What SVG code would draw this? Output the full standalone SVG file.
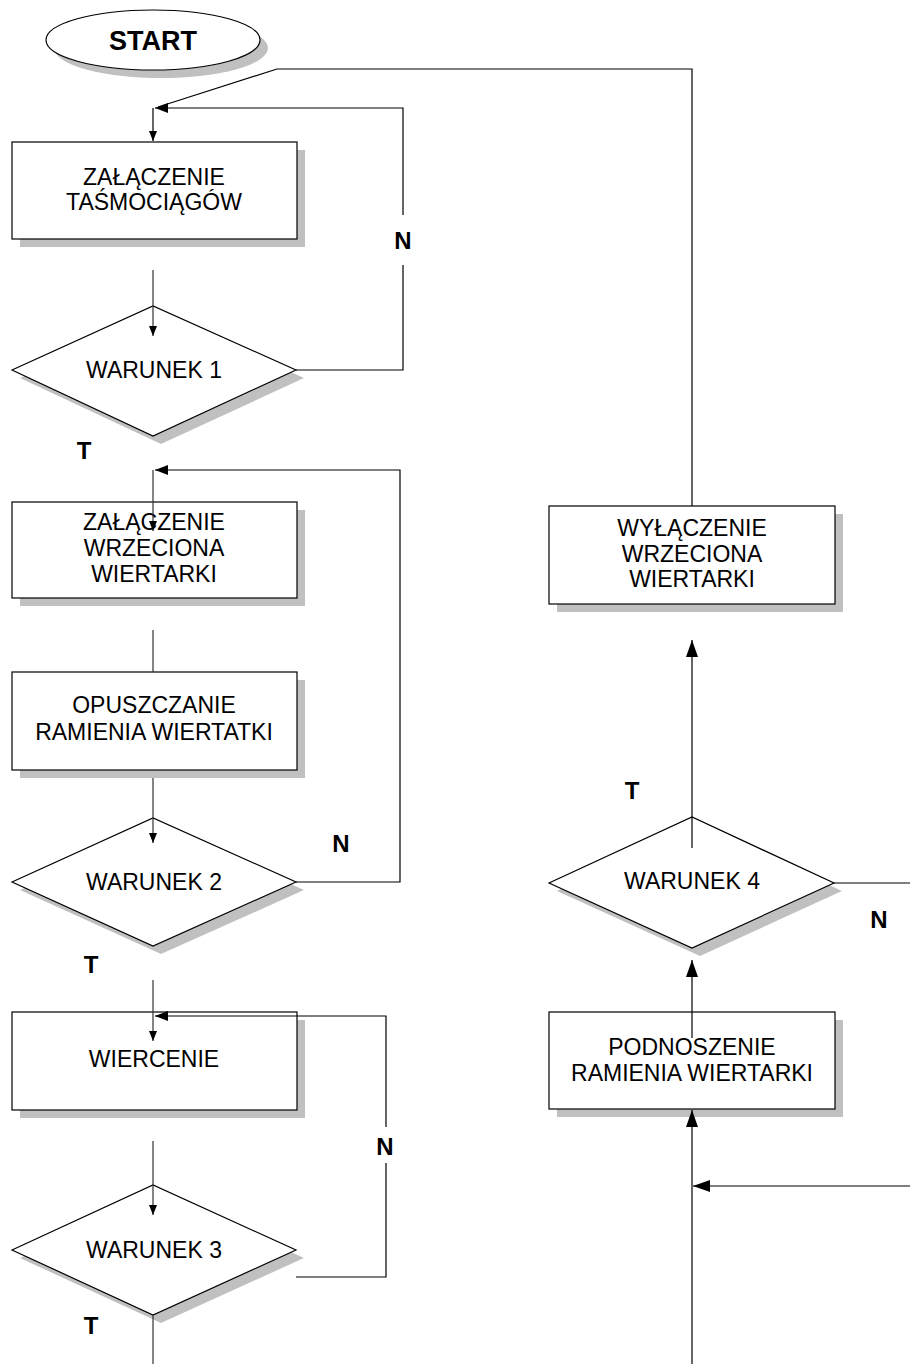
<svg xmlns="http://www.w3.org/2000/svg" width="910" height="1364" viewBox="0 0 910 1364">
<style>
.box{fill:#fff;stroke:#000;stroke-width:1.2}
.sh{fill:#c0c0c0;stroke:none}
.t{font-family:"Liberation Sans",Arial,sans-serif;font-size:23px;fill:#000;text-anchor:middle}
.lb{font-family:"Liberation Sans",Arial,sans-serif;font-size:24px;font-weight:bold;fill:#000;text-anchor:middle}
.st{font-family:"Liberation Sans",Arial,sans-serif;font-size:27px;font-weight:bold;fill:#000;text-anchor:middle}
.c{fill:none;stroke:#000;stroke-width:1.2}
.g{fill:none;stroke:#333;stroke-width:1.2}
</style>
<defs>
<marker id="sm" markerUnits="userSpaceOnUse" markerWidth="10" markerHeight="8" refX="10" refY="4" orient="auto"><path d="M0,0 L10,4 L0,8 z" fill="#000"/></marker>
<marker id="md" markerUnits="userSpaceOnUse" markerWidth="13" markerHeight="10" refX="13" refY="5" orient="auto"><path d="M0,0 L13,5 L0,10 z" fill="#000"/></marker>
<marker id="lg" markerUnits="userSpaceOnUse" markerWidth="17" markerHeight="12" refX="17" refY="6" orient="auto"><path d="M0,0 L17,6 L0,12 z" fill="#000"/></marker>
</defs>
<rect width="910" height="1364" fill="#fff"/>

<g id="start">
<ellipse class="sh" cx="161" cy="48" rx="107" ry="30"/>
<ellipse class="box" cx="153" cy="40" rx="107" ry="30"/>
<text class="st" x="153" y="50">START</text>
</g>

<g id="n1">
<rect class="sh" x="20" y="150" width="285" height="97"/>
<rect class="box" x="12" y="142" width="285" height="97"/>
<text class="t" x="154" y="185">ZAŁĄCZENIE</text>
<text class="t" x="154" y="210">TAŚMOCIĄGÓW</text>
</g>

<g id="d1">
<polygon class="sh" points="20,378 161,314 304,378 161,444"/>
<polygon class="box" points="12,370 153,306 296,370 153,436"/>
<text class="t" x="154" y="378">WARUNEK 1</text>
</g>

<g id="n2">
<rect class="sh" x="20" y="510" width="285" height="96"/>
<rect class="box" x="12" y="502" width="285" height="96"/>
<text class="t" x="154" y="530">ZAŁĄCZENIE</text>
<text class="t" x="154" y="556">WRZECIONA</text>
<text class="t" x="154" y="582">WIERTARKI</text>
</g>

<g id="n3">
<rect class="sh" x="20" y="680" width="285" height="98"/>
<rect class="box" x="12" y="672" width="285" height="98"/>
<text class="t" x="154" y="713">OPUSZCZANIE</text>
<text class="t" x="154" y="740">RAMIENIA WIERTATKI</text>
</g>

<g id="d2">
<polygon class="sh" points="20,890 161,826 304,890 161,954"/>
<polygon class="box" points="12,882 153,818 296,882 153,946"/>
<text class="t" x="154" y="890">WARUNEK 2</text>
</g>

<g id="n4">
<rect class="sh" x="20" y="1020" width="285" height="98"/>
<rect class="box" x="12" y="1012" width="285" height="98"/>
<text class="t" x="154" y="1067">WIERCENIE</text>
</g>

<g id="d3">
<polygon class="sh" points="20,1258 161,1193 304,1258 161,1323"/>
<polygon class="box" points="12,1250 153,1185 296,1250 153,1315"/>
<text class="t" x="154" y="1258">WARUNEK 3</text>
</g>

<g id="n5">
<rect class="sh" x="557" y="514" width="286" height="98"/>
<rect class="box" x="549" y="506" width="286" height="98"/>
<text class="t" x="692" y="536">WYŁĄCZENIE</text>
<text class="t" x="692" y="562">WRZECIONA</text>
<text class="t" x="692" y="587">WIERTARKI</text>
</g>

<g id="d4">
<polygon class="sh" points="557,891 700,825 842,891 700,956"/>
<polygon class="box" points="549,883 692,817 834,883 692,948"/>
<text class="t" x="692" y="889">WARUNEK 4</text>
</g>

<g id="n6">
<rect class="sh" x="557" y="1020" width="286" height="97"/>
<rect class="box" x="549" y="1012" width="286" height="97"/>
<text class="t" x="692" y="1055">PODNOSZENIE</text>
<text class="t" x="692" y="1081">RAMIENIA WIERTARKI</text>
</g>

<g id="connectors">
<path class="c" d="M692,506 V69 H277 L158,107"/>
<path class="c" d="M296,370 H403 V265 M403,215 V108 H155" marker-end="url(#md)"/>
<path class="c" d="M153,108 V141" marker-end="url(#sm)"/>
<path class="g" d="M153,270 V336" marker-end="url(#sm)"/>
<path class="c" d="M296,882 H400 V470 H155" marker-end="url(#md)"/>
<path class="g" d="M153,470 V531" marker-end="url(#sm)"/>
<path class="g" d="M153,630 V672"/>
<path class="g" d="M153,778 V843" marker-end="url(#sm)"/>
<path class="g" d="M153,980 V1041" marker-end="url(#sm)"/>
<path class="c" d="M296,1277 H386 V1163 M386,1127 V1016 H155" marker-end="url(#md)"/>
<path class="g" d="M153,1141 V1215" marker-end="url(#sm)"/>
<path class="g" d="M153,1315 V1364"/>
<path class="c" d="M692,848 V640" marker-end="url(#lg)"/>
<path class="c" d="M834,883 H910"/>
<path class="c" d="M692,1038 V960" marker-end="url(#lg)"/>
<path class="c" d="M692,1364 V1110" marker-end="url(#lg)"/>
<path class="c" d="M910,1186 H693" marker-end="url(#lg)"/>
</g>

<g id="labels">
<text class="lb" x="403" y="249">N</text>
<text class="lb" x="84" y="459">T</text>
<text class="lb" x="341" y="852">N</text>
<text class="lb" x="91" y="973">T</text>
<text class="lb" x="385" y="1155">N</text>
<text class="lb" x="91" y="1334">T</text>
<text class="lb" x="632" y="799">T</text>
<text class="lb" x="879" y="928">N</text>
</g>
</svg>
